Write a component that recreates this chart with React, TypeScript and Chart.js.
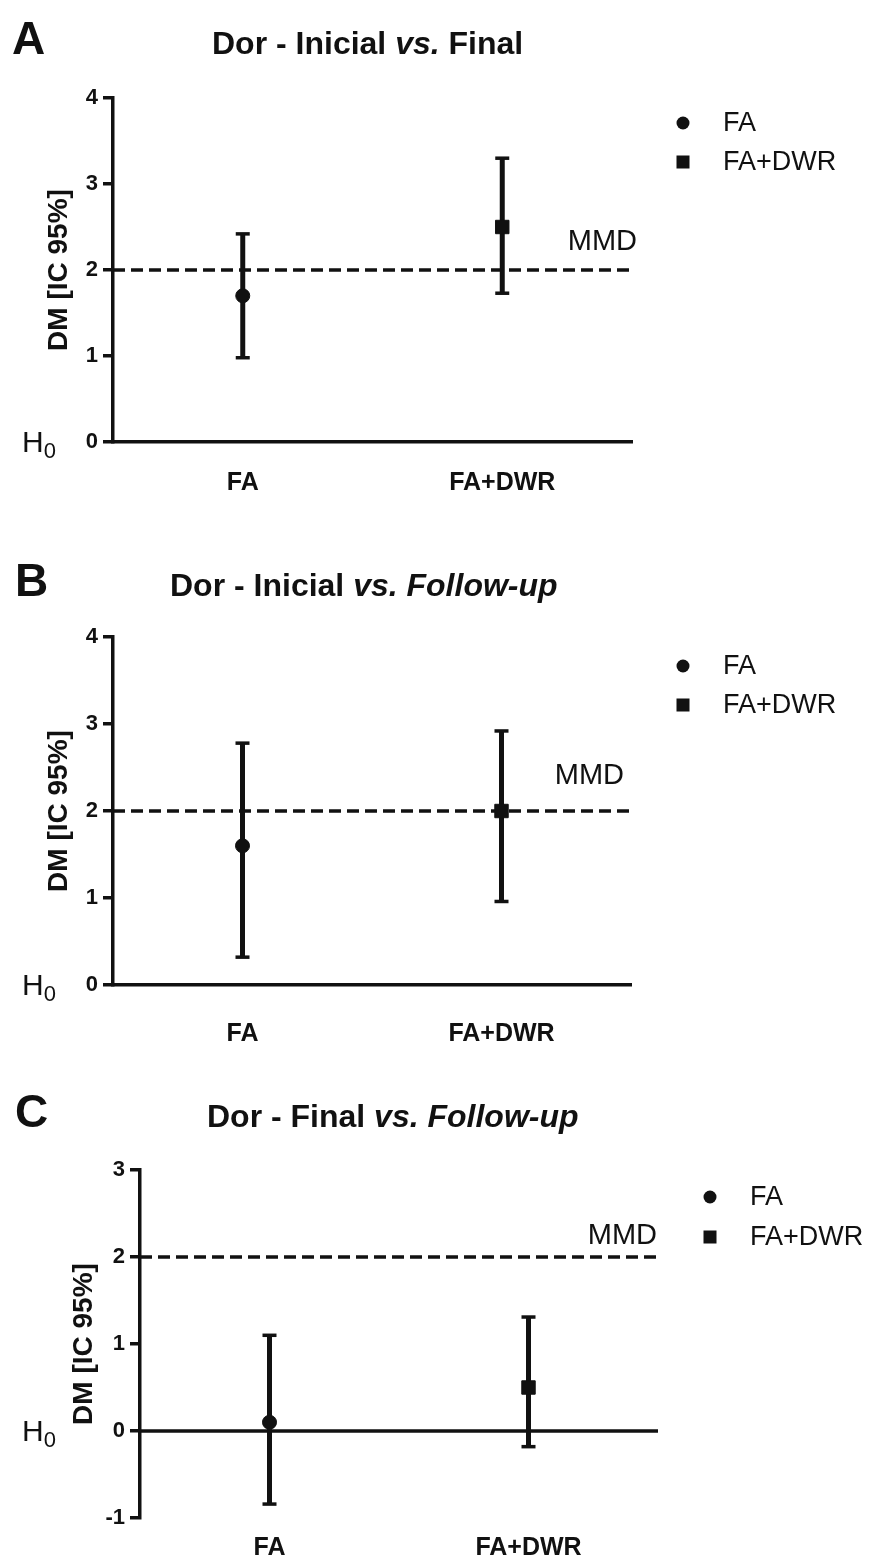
import React, { useEffect, useRef } from 'react';
import { Chart, registerables } from 'chart.js';

Chart.register(...registerables);

const FONT = '"Liberation Sans", Arial, Helvetica, sans-serif';
const INK = '#111111';

// ---------- data ----------
const categories = ['FA', 'FA+DWR'];
const categoryX = [1, 2];
const xRange = [0.5, 2.5];
const mmdValue = 2;
const h0Value = 0;
const yAxisTitle = 'DM [IC 95%]';

const meanA = [1.7, 2.5];
const lowA = [0.98, 1.73];
const highA = [2.42, 3.3];
const yTicksA = [0, 1, 2, 3, 4];

const meanB = [1.6, 2.0];
const lowB = [0.32, 0.96];
const highB = [2.78, 2.92];
const yTicksB = [0, 1, 2, 3, 4];

const meanC = [0.1, 0.5];
const lowC = [-0.84, -0.18];
const highC = [1.1, 1.31];
const yTicksC = [-1, 0, 1, 2, 3];

const titleA: [string, boolean][] = [['Dor - Inicial ', false], ['vs.', true], [' Final', false]];
const titleB: [string, boolean][] = [['Dor - Inicial ', false], ['vs. Follow-up', true]];
const titleC: [string, boolean][] = [['Dor - Final ', false], ['vs. Follow-up', true]];

// ---------- layout (page pixels) ----------
type Panel = {
  top: number; height: number;
  left: number; right: number; plotTop: number; plotBottom: number;
  xLabelGap: number; xAxisAtBottom: boolean;
  letter: string; letterX: number; baseline: number; titleX: number;
  title: [string, boolean][];
  legendMarkX: number; legendTextX: number; legendY: number[];
  mmdRight: number; mmdDy: number; yTitleX: number;
  mean: number[]; low: number[]; high: number[]; yTicks: number[];
};

const PANELS: Panel[] = [
  {
    top: 0, height: 520, left: 113, right: 632, plotTop: 98, plotBottom: 442,
    xLabelGap: 26, xAxisAtBottom: true,
    letter: 'A', letterX: 12, baseline: 54, titleX: 212, title: titleA,
    legendMarkX: 683, legendTextX: 723, legendY: [123, 162],
    mmdRight: 637, mmdDy: 28, yTitleX: 59,
    mean: meanA, low: lowA, high: highA, yTicks: yTicksA,
  },
  {
    top: 520, height: 540, left: 113, right: 631, plotTop: 637, plotBottom: 985,
    xLabelGap: 34, xAxisAtBottom: true,
    letter: 'B', letterX: 15, baseline: 596, titleX: 170, title: titleB,
    legendMarkX: 683, legendTextX: 723, legendY: [666, 705],
    mmdRight: 624, mmdDy: 35, yTitleX: 59,
    mean: meanB, low: lowB, high: highB, yTicks: yTicksB,
  },
  {
    top: 1060, height: 540, left: 140, right: 658, plotTop: 1170, plotBottom: 1518,
    xLabelGap: 15, xAxisAtBottom: false,
    letter: 'C', letterX: 15, baseline: 1127, titleX: 207, title: titleC,
    legendMarkX: 710, legendTextX: 750, legendY: [1197, 1237],
    mmdRight: 657, mmdDy: 21, yTitleX: 84,
    mean: meanC, low: lowC, high: highC, yTicks: yTicksC,
  },
];

const Y_W = 40;

const textPlugin = {
  id: 'panelText',
  afterDraw(chart: any, _args: any, opts: any) {
    const L: Panel = opts.panel;
    if (!L) return;
    const T = L.top;
    const { ctx, chartArea, scales } = chart;
    ctx.save();
    ctx.fillStyle = INK;

    // panel letter
    ctx.textAlign = 'left';
    ctx.textBaseline = 'alphabetic';
    ctx.font = `bold 46px ${FONT}`;
    ctx.fillText(L.letter, L.letterX, L.baseline - T);

    // title with italic parts
    let x = L.titleX;
    for (const [txt, it] of L.title) {
      ctx.font = `${it ? 'italic ' : ''}bold 32px ${FONT}`;
      ctx.fillText(txt, x, L.baseline - T);
      x += ctx.measureText(txt).width;
    }

    // y axis title
    ctx.save();
    ctx.translate(L.yTitleX, (chartArea.top + chartArea.bottom) / 2);
    ctx.rotate(-Math.PI / 2);
    ctx.textAlign = 'center';
    ctx.textBaseline = 'middle';
    ctx.font = `bold 28px ${FONT}`;
    ctx.fillText(yAxisTitle, 0, 0);
    ctx.restore();

    // MMD label
    const yM = scales.y.getPixelForValue(mmdValue);
    ctx.font = `29px ${FONT}`;
    ctx.textAlign = 'right';
    ctx.textBaseline = 'middle';
    ctx.fillText('MMD', L.mmdRight, yM - L.mmdDy);

    // H0 label
    const y0 = scales.y.getPixelForValue(h0Value);
    ctx.textAlign = 'left';
    ctx.font = `30px ${FONT}`;
    ctx.fillText('H', 22, y0 + 2);
    const w = ctx.measureText('H').width;
    ctx.font = `22px ${FONT}`;
    ctx.fillText('0', 22 + w, y0 + 10);

    // legend
    ctx.font = `27px ${FONT}`;
    categories.forEach((c, i) => {
      const ly = L.legendY[i] - T;
      ctx.beginPath();
      if (i === 0) {
        ctx.arc(L.legendMarkX, ly, 6.5, 0, Math.PI * 2);
        ctx.fill();
      } else {
        ctx.fillRect(L.legendMarkX - 6.5, ly - 6.5, 13, 13);
      }
      ctx.fillText(c, L.legendTextX, ly + 1);
    });
    ctx.restore();
  },
};

function makeChart(canvas: HTMLCanvasElement, L: Panel) {
  const T = L.top;
  const xH = L.xLabelGap + 36;
  const padding = {
    left: L.left - Y_W,
    right: 876 - L.right,
    top: L.plotTop - T,
    bottom: T + L.height - L.plotBottom - xH,
  };

  const datasets: any[] = [
    {
      label: categories[0],
      data: [{ x: categoryX[0], y: L.mean[0] }],
      showLine: false,
      pointStyle: 'circle',
      pointRadius: 7,
      pointBackgroundColor: INK,
      pointBorderColor: INK,
      pointBorderWidth: 1,
      order: 0,
    },
    {
      label: categories[1],
      data: [{ x: categoryX[1], y: L.mean[1] }],
      showLine: false,
      pointStyle: 'rect',
      pointRadius: 9.5,
      pointBackgroundColor: INK,
      pointBorderColor: INK,
      pointBorderWidth: 1,
      order: 0,
    },
    ...categories.map((c, i) => ({
      label: c + ' IC 95%',
      data: [
        { x: categoryX[i], y: L.low[i] },
        { x: categoryX[i], y: L.high[i] },
      ],
      showLine: true,
      borderColor: INK,
      borderWidth: 5,
      pointStyle: 'line',
      pointRadius: 7,
      pointBorderWidth: 3.5,
      pointBorderColor: INK,
      pointBackgroundColor: INK,
      order: 1,
    })),
    {
      label: 'MMD',
      data: [
        { x: xRange[0], y: mmdValue },
        { x: xRange[1], y: mmdValue },
      ],
      showLine: true,
      borderColor: INK,
      borderWidth: 3.5,
      borderDash: [12, 6],
      pointRadius: 0,
      order: 2,
    },
  ];

  if (!L.xAxisAtBottom) {
    datasets.push({
      label: 'H0',
      data: [
        { x: xRange[0], y: h0Value },
        { x: xRange[1], y: h0Value },
      ],
      showLine: true,
      borderColor: INK,
      borderWidth: 3.5,
      pointRadius: 0,
      order: 2,
    });
  }

  return new Chart(canvas, {
    type: 'scatter',
    data: { datasets },
    plugins: [textPlugin],
    options: {
      responsive: false,
      animation: false,
      events: [],
      devicePixelRatio: 1,
      layout: { padding },
      plugins: {
        legend: { display: false },
        tooltip: { enabled: false },
        title: { display: false },
        panelText: { panel: L },
      } as any,
      scales: {
        x: {
          type: 'linear',
          min: xRange[0],
          max: xRange[1],
          afterBuildTicks: (s: any) => {
            s.ticks = categoryX.map((v) => ({ value: v }));
          },
          afterFit: (s: any) => {
            s.height = xH;
          },
          ticks: {
            callback: (v: any) => {
              const k = categoryX.indexOf(Number(v));
              return k >= 0 ? categories[k] : '';
            },
            font: { family: FONT, size: 25, weight: 'bold' },
            color: INK,
            padding: L.xLabelGap,
            autoSkip: false,
            maxRotation: 0,
          },
          grid: { display: false, drawTicks: false, tickLength: 0 },
          border: { display: L.xAxisAtBottom, color: INK, width: 3.5 },
        },
        y: {
          type: 'linear',
          min: L.yTicks[0],
          max: L.yTicks[L.yTicks.length - 1],
          afterBuildTicks: (s: any) => {
            s.ticks = L.yTicks.map((v) => ({ value: v }));
          },
          afterFit: (s: any) => {
            s.width = Y_W;
          },
          ticks: {
            font: { family: FONT, size: 22, weight: 'bold' },
            color: INK,
            padding: 5,
          },
          grid: {
            display: true,
            drawOnChartArea: false,
            drawTicks: true,
            tickLength: 10,
            color: INK,
            lineWidth: 3.5,
          },
          border: { display: true, color: INK, width: 3.5 },
        },
      },
    } as any,
  });
}

export default function App() {
  const r0 = useRef<HTMLCanvasElement>(null);
  const r1 = useRef<HTMLCanvasElement>(null);
  const r2 = useRef<HTMLCanvasElement>(null);
  const refs = [r0, r1, r2];

  useEffect(() => {
    const charts = PANELS.map((p, i) => makeChart(refs[i].current as HTMLCanvasElement, p));
    return () => charts.forEach((c) => c.destroy());
  }, []);

  return (
    <div
      style={{
        position: 'absolute',
        left: 0,
        top: 0,
        width: 876,
        height: 1558,
        background: '#ffffff',
        overflow: 'hidden',
      }}
    >
      {PANELS.map((p, i) => (
        <canvas
          key={i}
          ref={refs[i]}
          width={876}
          height={p.height}
          style={{ position: 'absolute', left: 0, top: p.top, width: 876, height: p.height }}
        />
      ))}
    </div>
  );
}
